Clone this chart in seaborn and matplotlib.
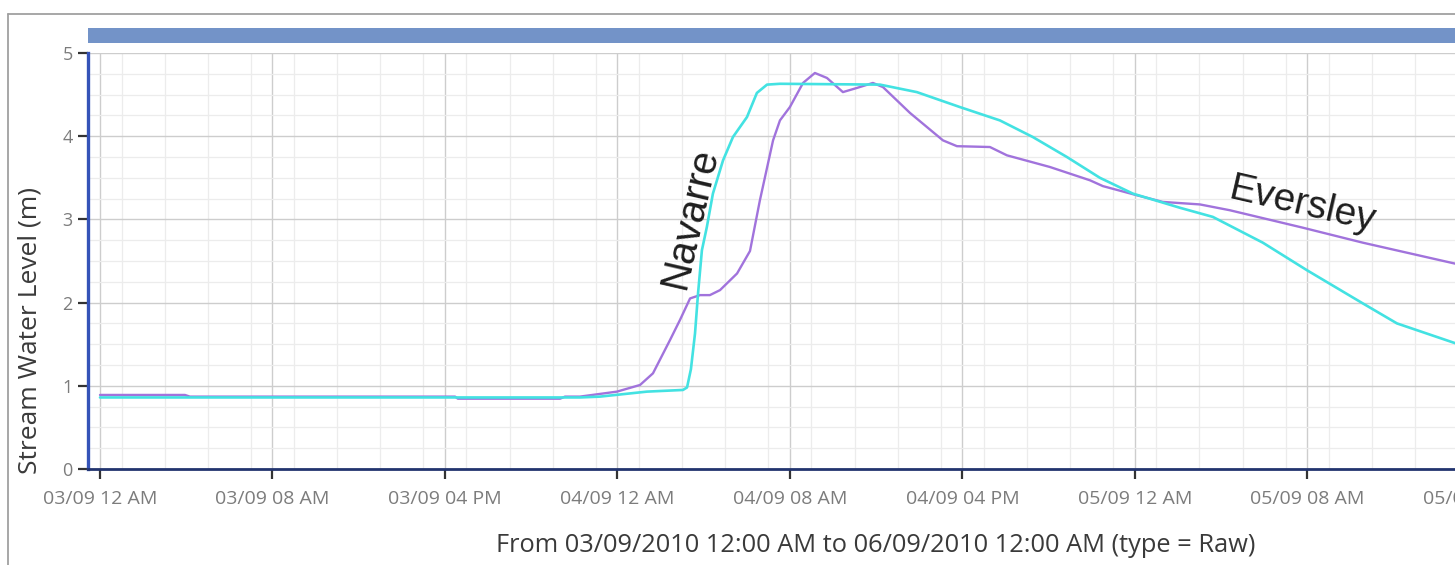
import numpy as np
import pandas as pd
import matplotlib
matplotlib.use("Agg")
import matplotlib.pyplot as plt
import matplotlib.dates as mdates
from matplotlib.lines import Line2D
from matplotlib.patches import Rectangle
from matplotlib.ticker import MultipleLocator
import seaborn as sns

START = "2010-09-03 00:00"

# Eversley (purple): hours after start, level (m)
eversley_hours = [0, 3.94, 4.17, 16.47, 16.60, 21.34, 21.57, 22.26, 23.98, 25.05, 25.65,
                  26.44, 26.90, 27.37, 27.83, 28.29, 28.76, 29.55, 30.15, 30.61, 31.22,
                  31.54, 32.00, 32.61, 33.16, 33.72, 34.46, 35.11, 35.85, 36.32, 37.57,
                  39.10, 39.75, 41.28, 42.07, 44.06, 45.92, 46.52, 48.10, 49.30, 51.02,
                  52.41, 55.80, 58.58, 63.0]
eversley_level = [0.89, 0.89, 0.87, 0.87, 0.845, 0.845, 0.87, 0.87, 0.93, 1.01, 1.15,
                  1.55, 1.79, 2.05, 2.09, 2.09, 2.15, 2.35, 2.62, 3.23, 3.95,
                  4.19, 4.35, 4.64, 4.76, 4.70, 4.53, 4.58, 4.64, 4.59, 4.28,
                  3.95, 3.88, 3.87, 3.77, 3.63, 3.47, 3.40, 3.29, 3.21, 3.18,
                  3.11, 2.90, 2.72, 2.46]

# Navarre (cyan)
navarre_hours = [0, 22.26, 23.19, 25.37, 27.04, 27.23, 27.41, 27.60, 27.74, 27.92, 28.15,
                 28.43, 28.90, 29.36, 30.01, 30.47, 30.94, 31.54, 36.18, 37.89, 39.89,
                 41.74, 43.27, 44.85, 46.38, 47.91, 50.09, 51.62, 53.94, 55.98, 58.58,
                 60.16, 63.0]
navarre_level = [0.86, 0.86, 0.87, 0.93, 0.95, 0.98, 1.2, 1.63, 2.11, 2.63, 2.91,
                 3.31, 3.71, 3.99, 4.23, 4.52, 4.62, 4.63, 4.62, 4.53, 4.35,
                 4.19, 3.99, 3.75, 3.50, 3.31, 3.14, 3.03, 2.72, 2.39, 1.99,
                 1.75, 1.50]

y_ticks = [0, 1, 2, 3, 4, 5]
x_label = "From 03/09/2010 12:00 AM to 06/09/2010 12:00 AM (type = Raw)"
y_label = "Stream Water Level (m)"

start = pd.Timestamp(START)
df_e = pd.DataFrame({"time": start + pd.to_timedelta(eversley_hours, unit="h"),
                     "level": eversley_level})
df_n = pd.DataFrame({"time": start + pd.to_timedelta(navarre_hours, unit="h"),
                     "level": navarre_level})

sns.set_style("white")
plt.rcParams["font.family"] = ["Open Sans", "DejaVu Sans"]

W, H = 1455, 565
fig = plt.figure(figsize=(W / 100, H / 100), dpi=100)
ax = fig.add_axes([88 / W, (H - 469) / H, (1500 - 88) / W, (469 - 53) / H])

sns.lineplot(data=df_e, x="time", y="level", color="#a173dc", lw=1.7,
             estimator=None, sort=False, ax=ax, zorder=3)
sns.lineplot(data=df_n, x="time", y="level", color="#43e2e2", lw=1.9,
             estimator=None, sort=False, ax=ax, zorder=4)

ax.set_xlim(start + pd.Timedelta(hours=-0.557), start + pd.Timedelta(hours=64.94))
ax.set_ylim(0, 5)
ax.set_yticks(y_ticks)
ax.yaxis.set_minor_locator(MultipleLocator(0.25))
ax.xaxis.set_major_locator(mdates.HourLocator(byhour=[0, 8, 16]))
ax.xaxis.set_minor_locator(mdates.HourLocator(interval=2))
ax.xaxis.set_major_formatter(mdates.DateFormatter("%d/%m %I %p"))

ax.grid(which="major", color="#cdcdcd", lw=1.0)
ax.grid(which="minor", color="#ececec", lw=0.9)
ax.set_axisbelow(True)

for s in ["top", "right"]:
    ax.spines[s].set_visible(False)
ax.spines["left"].set_color("#3553b8")
ax.spines["left"].set_linewidth(2.4)
ax.spines["bottom"].set_color("#22346f")
ax.spines["bottom"].set_linewidth(2.0)

ax.tick_params(axis="both", which="major", direction="out", length=7, width=1.6,
               color="#333333", labelcolor="#7c7c7c", labelsize=14,
               bottom=True, left=True)
ax.tick_params(axis="y", which="major", labelsize=13, pad=4)
ax.tick_params(axis="x", which="major", pad=8)
ax.tick_params(which="minor", length=0, bottom=False, left=False)
ax.set_xlabel("")
ax.set_ylabel("")

ax.text(start + pd.Timedelta(hours=27.37), 3.02, "Navarre", rotation=77,
        rotation_mode="anchor", ha="center", va="center", fontsize=29,
        family=["Liberation Sans"], color="#1e1e1e", zorder=5)
ax.text(start + pd.Timedelta(hours=55.8), 3.17, "Eversley", rotation=-13,
        rotation_mode="anchor", ha="center", va="center", fontsize=28,
        family=["Liberation Sans"], color="#1e1e1e", zorder=5)

fig.text(876 / W, 1 - 545 / H, x_label, ha="center", va="center",
         fontsize=18.3, color="#3a3a3a")
fig.text(30 / W, 1 - 330 / H, y_label, ha="center", va="center", rotation=90,
         fontsize=19, color="#3a3a3a")

# top bar
fig.add_artist(Rectangle((88 / W, (H - 43) / H), 2, 15 / H,
                         transform=fig.transFigure, color="#7393c8", lw=0))
# outer frame
fig.add_artist(Line2D([8 / W, 8 / W], [0, (H - 14) / H], color="#a0a0a0", lw=1.3,
                      transform=fig.transFigure))
fig.add_artist(Line2D([8 / W, 1.0], [(H - 14) / H, (H - 14) / H], color="#a0a0a0",
                      lw=1.3, transform=fig.transFigure))

fig.savefig("out.png", dpi=100, facecolor="white")
